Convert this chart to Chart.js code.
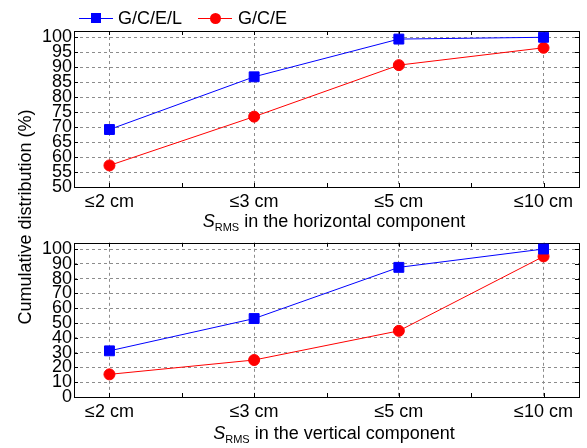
<!DOCTYPE html>
<html>
<head>
<meta charset="utf-8">
<script src="https://cdn.jsdelivr.net/npm/chart.js@4/dist/chart.umd.min.js"></script>
<style>
  body { margin: 0; background: #fff; }
  #wrap { position: relative; width: 587px; height: 448px; font-family: "Liberation Sans", Arial, sans-serif; color: #000; }
  canvas { position: absolute; left: 0; }
  .txt { position: absolute; font-size: 18px; line-height: 18px; white-space: nowrap; }
  .xtitle { left: 0; width: 668px; text-align: center; }
  .xtitle sub { font-size: 11px; vertical-align: -4px; line-height: 0; }
  .ytitle { left: -125px; top: 208px; width: 300px; text-align: center; transform: rotate(-90deg); }
  .lg-line { position: absolute; height: 1px; top: 18px; }
  .lg-mark { position: absolute; }
</style>
</head>
<body>
<div id="wrap">
  <canvas id="top" width="587" height="235" style="top:0"></canvas>
  <canvas id="bottom" width="587" height="218" style="top:230px"></canvas>

  <div class="lg-line" style="left:79px;width:34px;background:#0000ff"></div>
  <div class="lg-mark" style="left:91px;top:13px;width:10px;height:10px;background:#0000ff"></div>
  <div class="txt" style="left:118px;top:9px">G/C/E/L</div>
  <div class="lg-line" style="left:198px;width:34px;background:#ff0000"></div>
  <div class="lg-mark" style="left:209.5px;top:12.5px;width:11px;height:11px;border-radius:50%;background:#ff0000"></div>
  <div class="txt" style="left:238px;top:9px">G/C/E</div>

  <div class="txt xtitle" style="top:212px"><i>S</i><sub>RMS</sub> in the horizontal component</div>
  <div class="txt xtitle" style="top:424px"><i>S</i><sub>RMS</sub> in the vertical component</div>
  <div class="txt ytitle">Cumulative distribution (%)</div>
</div>
<script>
const categories = ['≤2 cm', '≤3 cm', '≤5 cm', '≤10 cm'];

// horizontal component
const horizGCEL = [69.2, 86.8, 99.4, 100];
const horizGCE  = [57.2, 73.5, 90.7, 96.5];
const horizTicks = [50, 55, 60, 65, 70, 75, 80, 85, 90, 95, 100];

// vertical component
const vertGCEL = [31.2, 53.0, 87.6, 100];
const vertGCE  = [15.3, 25.0, 44.7, 95.0];
const vertTicks = [0, 10, 20, 30, 40, 50, 60, 70, 80, 90, 100];

const FONT = { family: '"Liberation Sans", Arial, sans-serif', size: 18 };
const BLUE = '#0000ff', RED = '#ff0000';

// frame + inward tick marks on all four sides
const framePlugin = {
  id: 'frame',
  beforeDatasetsDraw(chart) {
    const { ctx, chartArea: a, scales: { x, y } } = chart;
    ctx.save();
    ctx.strokeStyle = '#000';
    ctx.lineWidth = 1;
    ctx.strokeRect(Math.round(a.left) + 0.5, Math.round(a.top) + 0.5,
                   Math.round(a.right - a.left), Math.round(a.bottom - a.top));
    ctx.beginPath();
    y.ticks.forEach(t => {
      const py = Math.round(y.getPixelForValue(t.value)) + 0.5;
      ctx.moveTo(a.left, py); ctx.lineTo(a.left + 4, py);
      ctx.moveTo(a.right, py); ctx.lineTo(a.right - 4, py);
    });
    for (let v = 0; v <= categories.length - 1; v += 0.5) {
      const px = Math.round(x.getPixelForValue(v)) + 0.5;
      ctx.moveTo(px, a.bottom); ctx.lineTo(px, a.bottom - 4);
      ctx.moveTo(px, a.top); ctx.lineTo(px, a.top + 4);
    }
    ctx.stroke();
    ctx.restore();
  }
};

function makePanel(id, gcel, gce, yTicks, yMin, yMax, padTop, xHeight) {
  const pts = arr => arr.map((v, i) => ({ x: i, y: v }));
  new Chart(document.getElementById(id), {
    type: 'line',
    data: {
      datasets: [
        { label: 'G/C/E/L', data: pts(gcel), borderColor: BLUE, backgroundColor: BLUE,
          borderWidth: 1, pointStyle: 'rect', pointRadius: 7, pointHoverRadius: 7, tension: 0 },
        { label: 'G/C/E', data: pts(gce), borderColor: RED, backgroundColor: RED,
          borderWidth: 1, pointStyle: 'circle', pointRadius: 5.5, pointHoverRadius: 5.5, tension: 0 }
      ]
    },
    options: {
      responsive: false,
      animation: false,
      layout: { padding: { top: padTop, right: 4, left: 0, bottom: 0 } },
      plugins: { legend: { display: false }, tooltip: { enabled: false } },
      scales: {
        x: {
          type: 'linear', min: -0.245, max: 3.245,
          afterBuildTicks: s => { s.ticks = categories.map((_, i) => ({ value: i })); },
          afterFit: s => { s.height = xHeight; },
          ticks: { callback: v => categories[v], font: FONT, color: '#000', padding: 4, maxRotation: 0, autoSkip: false },
          grid: { color: '#8c8c8c', lineWidth: 1, drawTicks: false },
          border: { display: false, dash: [3, 3] }
        },
        y: {
          min: yMin, max: yMax,
          afterBuildTicks: s => { s.ticks = yTicks.map(v => ({ value: v })); },
          afterFit: s => { s.width = 74; },
          ticks: { font: FONT, color: '#000', padding: 2, autoSkip: false },
          grid: { color: '#8c8c8c', lineWidth: 1, drawTicks: false },
          border: { display: false, dash: [3, 3] }
        }
      }
    },
    plugins: [framePlugin]
  });
}

makePanel('top', horizGCEL, horizGCE, horizTicks, 50, 102.1, 31, 48);
makePanel('bottom', vertGCEL, vertGCE, vertTicks, 0, 104.2, 11, 51);
</script>
</body>
</html>
